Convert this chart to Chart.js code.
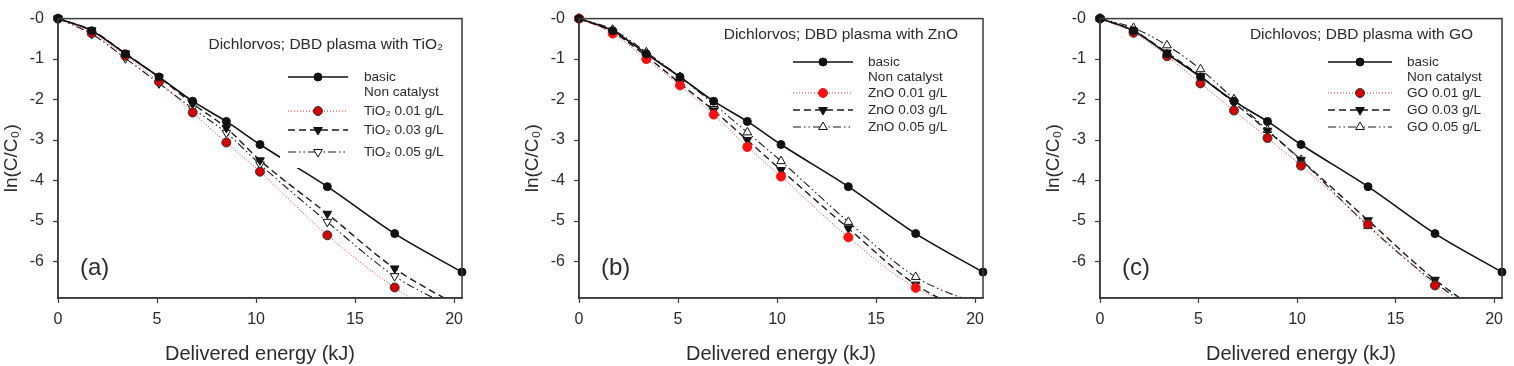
<!DOCTYPE html>
<html>
<head>
<meta charset="utf-8">
<script src="https://cdn.jsdelivr.net/npm/chart.js@4.4.0/dist/chart.umd.min.js"></script>
<style>
  html, body { margin: 0; padding: 0; background: #fff; }
  #wrap { position: relative; width: 1514px; height: 366px; overflow: hidden; }
  .panel { position: absolute; top: 0; height: 366px; }
</style>
</head>
<body>
<div id="wrap">
  <div class="panel" style="left:0;width:480px"><canvas id="chartA"></canvas></div>
  <div class="panel" style="left:521px;width:480px"><canvas id="chartB"></canvas></div>
  <div class="panel" style="left:1042px;width:472px"><canvas id="chartC"></canvas></div>
</div>
<script>
// delivered energy (kJ)
const energy = [0, 1.7, 3.4, 5.1, 6.8, 8.5, 10.2, 13.6, 17.0, 20.4];
const xTicks = [0, 5, 10, 15, 20];
const yTicks = [0, -1, -2, -3, -4, -5, -6];

// ln(C/C0), plasma without catalyst (same in every panel)
const basic = [0, -0.30, -0.87, -1.44, -2.04, -2.54, -3.11, -4.15, -5.31, -6.26];

// (a) TiO2
const tio2_001 = [0, -0.36, -0.92, -1.56, -2.32, -3.06, -3.78, -5.35, -6.64, -7.65];
const tio2_003 = [0, -0.29, -0.86, -1.45, -2.10, -2.70, -3.50, -4.82, -6.17, -7.15];
const tio2_005 = [0, -0.38, -0.98, -1.60, -2.22, -2.82, -3.60, -5.02, -6.36, -7.25];

// (b) ZnO
const zno_001 = [0, -0.37, -1.00, -1.65, -2.37, -3.17, -3.90, -5.40, -6.65, -7.30];
const zno_003 = [0, -0.33, -0.93, -1.60, -2.27, -3.00, -3.74, -5.18, -6.57, -7.40];
const zno_005 = [0, -0.27, -0.83, -1.44, -2.11, -2.81, -3.52, -5.02, -6.38, -7.10];

// (c) GO
const go_001 = [0, -0.35, -0.93, -1.60, -2.27, -2.95, -3.63, -5.08, -6.59, -8.00];
const go_003 = [0, -0.30, -0.84, -1.42, -2.08, -2.77, -3.49, -4.98, -6.45, -7.60];
const go_005 = [0, -0.23, -0.66, -1.25, -1.99, -2.75, -3.49, -5.12, -6.52, -7.65];

const FONT = 'Arial, "Liberation Sans", Helvetica, sans-serif';
const textColor = '#2b2b2b';
const axisColor = '#3a3a3a';

function pts(ys) {
  return energy.map((x, i) => ({ x, y: ys[i] }));
}

function basicSet() {
  return {
    label: 'basic',
    extra: 'Non catalyst',
    data: pts(basic),
    borderColor: '#111',
    borderWidth: 1.6,
    pointStyle: 'circle',
    pointRadius: 4,
    pointBackgroundColor: '#111',
    pointBorderColor: '#111',
    pointBorderWidth: 1,
    clip: false,
  };
}

function redSet(label, ys, edge) {
  return {
    label,
    data: pts(ys),
    borderColor: '#ff2a2a',
    borderWidth: 1,
    borderDash: [1, 2],
    pointStyle: 'circle',
    pointRadius: 4.5,
    pointBackgroundColor: edge === 'red' ? '#ff1010' : '#d40000',
    pointBorderColor: edge === 'red' ? '#ff1010' : '#333',
    pointBorderWidth: 1,
    clip: { left: 8, top: 8, right: 8, bottom: 0 },
  };
}

function dashSet(label, ys) {
  return {
    label,
    data: pts(ys),
    borderColor: '#1a1a1a',
    borderWidth: 1.4,
    borderDash: [7, 4],
    pointStyle: 'triangle',
    pointRotation: 180,
    pointRadius: 5,
    pointBackgroundColor: '#111',
    pointBorderColor: '#111',
    pointBorderWidth: 1,
    clip: { left: 8, top: 8, right: 8, bottom: 0 },
  };
}

function dashDotSet(label, ys, rot) {
  return {
    label,
    data: pts(ys),
    borderColor: '#1a1a1a',
    borderWidth: 1.1,
    borderDash: [8, 3, 1.5, 3, 1.5, 3],
    pointStyle: 'triangle',
    pointRotation: rot,
    pointRadius: 5,
    pointBackgroundColor: '#fff',
    pointBorderColor: '#111',
    pointBorderWidth: 1,
    clip: { left: 8, top: 8, right: 8, bottom: 0 },
  };
}

function marker(ctx, ds, x, y) {
  ctx.save();
  ctx.setLineDash([]);
  ctx.fillStyle = ds.pointBackgroundColor;
  ctx.strokeStyle = ds.pointBorderColor;
  ctx.lineWidth = ds.pointBorderWidth;
  const opts = { pointStyle: ds.pointStyle, radius: ds.pointRadius, rotation: ds.pointRotation || 0, borderWidth: ds.pointBorderWidth };
  if (Chart.helpers && Chart.helpers.drawPoint) {
    Chart.helpers.drawPoint(ctx, opts, x, y);
  } else {
    ctx.beginPath();
    if (ds.pointStyle === 'circle') {
      ctx.arc(x, y, ds.pointRadius, 0, Math.PI * 2);
    } else {
      let rad = (opts.rotation) * Math.PI / 180;
      for (let k = 0; k < 3; k++) {
        const px = x + Math.sin(rad) * opts.radius;
        const py = y - Math.cos(rad) * opts.radius;
        k === 0 ? ctx.moveTo(px, py) : ctx.lineTo(px, py);
        rad += 2 * Math.PI / 3;
      }
      ctx.closePath();
    }
    ctx.fill();
    ctx.stroke();
  }
  ctx.restore();
}

// frame, legend box and panel letter
const panelDecor = {
  id: 'panelDecor',
  afterDatasetsDraw(chart, args, o) {
    const ctx = chart.ctx;
    const a = chart.chartArea;
    ctx.save();
    // white legend background
    ctx.fillStyle = '#fff';
    ctx.fillRect(o.box[0], o.box[1], o.box[2], o.box[3]);

    ctx.fillStyle = textColor;
    ctx.textBaseline = 'middle';
    ctx.font = '15.5px ' + FONT;
    ctx.textAlign = 'right';
    ctx.fillText(o.title, o.titleRight, o.titleY);

    ctx.textAlign = 'left';
    ctx.font = '13.6px ' + FONT;
    chart.data.datasets.forEach((ds, i) => {
      const y = o.rows[i];
      ctx.save();
      ctx.strokeStyle = ds.borderColor;
      ctx.lineWidth = ds.borderWidth;
      ctx.setLineDash(ds.borderDash || []);
      ctx.beginPath();
      ctx.moveTo(o.lineX[0], y);
      ctx.lineTo(o.lineX[1], y);
      ctx.stroke();
      ctx.restore();
      marker(ctx, ds, (o.lineX[0] + o.lineX[1]) / 2, y);
      ctx.fillStyle = textColor;
      ctx.fillText(ds.label, o.textX, y);
      if (ds.extra) ctx.fillText(ds.extra, o.textX, o.extraY);
    });

    // panel letter
    ctx.font = '24px ' + FONT;
    ctx.fillText(o.letter, a.left + 22, a.bottom - 30);

    // frame
    ctx.strokeStyle = axisColor;
    ctx.lineWidth = 1.5;
    ctx.strokeRect(a.left, a.top, a.right - a.left, a.bottom - a.top);
    ctx.restore();
  }
};

function scales() {
  return {
    x: {
      type: 'linear', min: 0, max: 20.4,
      afterFit(s) { s.height = 68; },
      afterBuildTicks(s) { s.ticks = xTicks.map(v => ({ value: v })); },
      ticks: { color: textColor, font: { family: FONT, size: 16 }, padding: 7, maxRotation: 0 },
      grid: { drawOnChartArea: false, drawTicks: true, tickLength: 5, color: axisColor, tickWidth: 1.2 },
      border: { display: true, color: axisColor, width: 1.5 },
      title: { display: true, text: 'Delivered energy (kJ)', color: textColor, font: { family: FONT, size: 20 }, padding: { top: 0, bottom: 0 } },
    },
    y: {
      type: 'linear', min: -6.9, max: 0,
      afterFit(s) { s.width = 58; },
      afterBuildTicks(s) { s.ticks = yTicks.map(v => ({ value: v })); },
      ticks: { color: textColor, font: { family: FONT, size: 16 }, padding: 9, callback: v => (v === 0 ? '-0' : String(v)) },
      grid: { drawOnChartArea: false, drawTicks: true, tickLength: 5, color: axisColor, tickWidth: 1.2 },
      border: { display: true, color: axisColor, width: 1.5 },
      title: { display: true, text: 'ln(C/C\u2080)', color: textColor, font: { family: FONT, size: 19 }, padding: { top: 0, bottom: 0 } },
    },
  };
}

function makeChart(id, datasets, decor, rightPad) {
  new Chart(document.getElementById(id), {
    type: 'line',
    data: { datasets },
    options: {
      responsive: true,
      maintainAspectRatio: false,
      animation: false,
      cubicInterpolationMode: 'monotone',
      layout: { padding: { top: 11, left: 0, right: rightPad, bottom: 0 } },
      plugins: { legend: { display: false }, tooltip: { enabled: false }, panelDecor: decor },
      scales: scales(),
    },
    plugins: [panelDecor],
  });
}

makeChart('chartA', [
  basicSet(),
  redSet('TiO\u2082 0.01 g/L', tio2_001),
  dashSet('TiO\u2082 0.03 g/L', tio2_003),
  dashDotSet('TiO\u2082 0.05 g/L', tio2_005, 180),
], {
  box: [280, 26, 172, 142],
  title: 'Dichlorvos; DBD plasma with TiO\u2082', titleRight: 443, titleY: 45,
  lineX: [288, 348], textX: 364, rows: [77, 111, 130, 152], extraY: 92,
  letter: '(a)',
}, 18);

makeChart('chartB', [
  basicSet(),
  redSet('ZnO 0.01 g/L', zno_001, 'red'),
  dashSet('ZnO 0.03 g/L', zno_003),
  dashDotSet('ZnO 0.05 g/L', zno_005, 0),
], {
  box: [268, 24, 186, 112],
  title: 'Dichlorvos; DBD plasma with ZnO', titleRight: 437, titleY: 35,
  lineX: [272, 332], textX: 347, rows: [62, 93, 110, 127], extraY: 77,
  letter: '(b)',
}, 18);

makeChart('chartC', [
  basicSet(),
  redSet('GO 0.01 g/L', go_001),
  dashSet('GO 0.03 g/L', go_003),
  dashDotSet('GO 0.05 g/L', go_005, 0),
], {
  box: [282, 24, 172, 112],
  title: 'Dichlovos; DBD plasma with GO', titleRight: 431, titleY: 35,
  lineX: [286, 350], textX: 365, rows: [62, 93, 110, 127], extraY: 77,
  letter: '(c)',
}, 12);
</script>
</body>
</html>
